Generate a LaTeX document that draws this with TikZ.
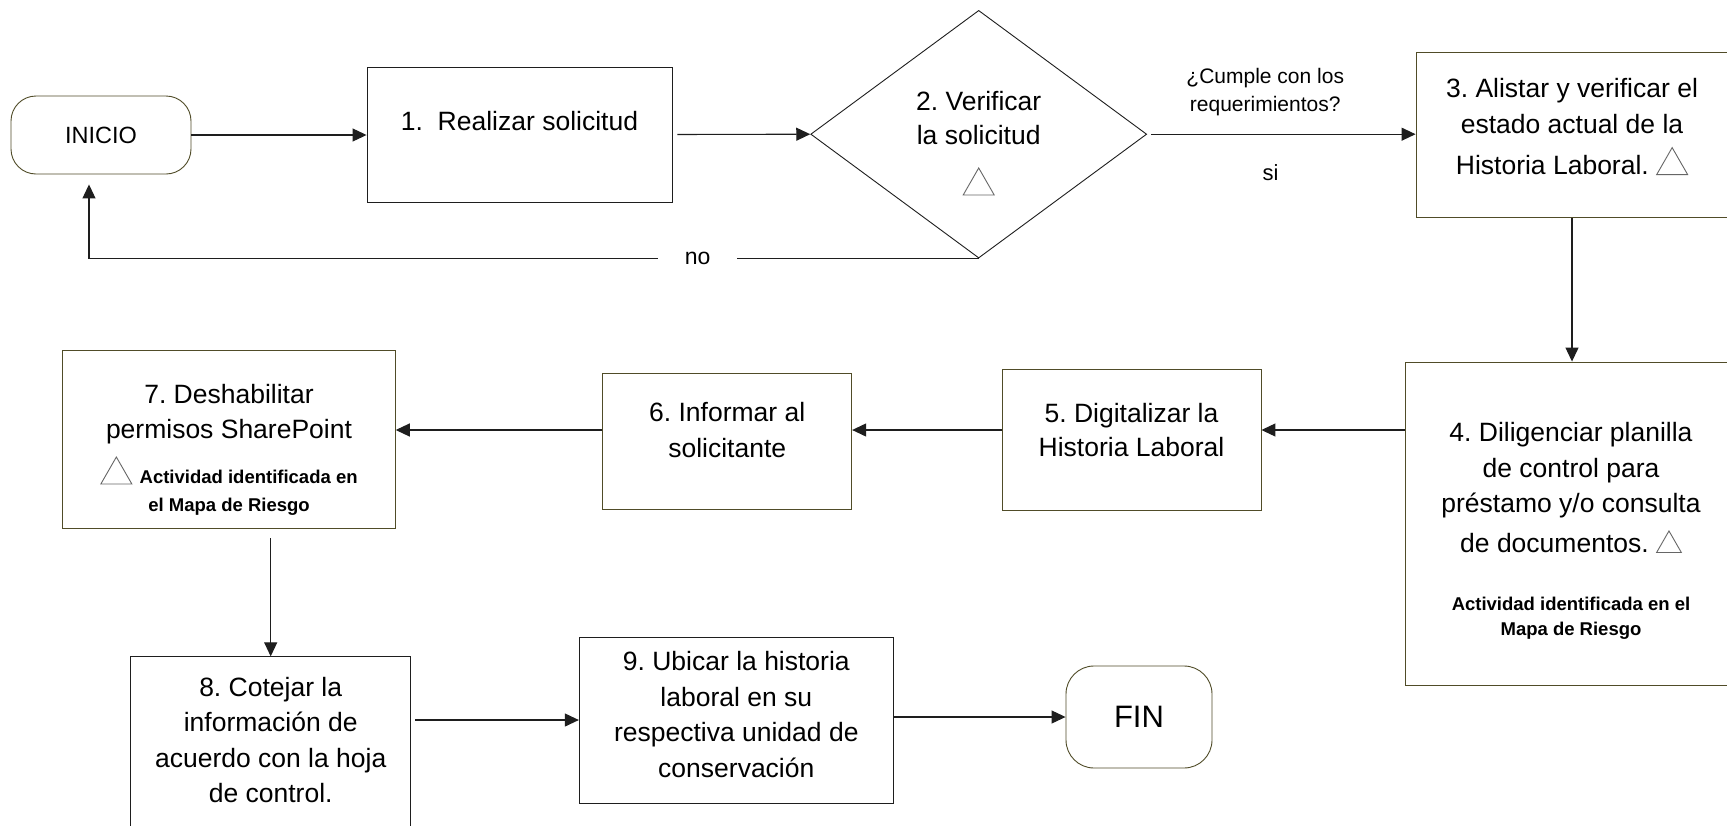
\documentclass[tikz,border=0pt]{standalone}
\usepackage{fontspec}
\setmainfont{Liberation Sans}
\usepackage{tikz}
\usetikzlibrary{arrows.meta, shapes.geometric}

\definecolor{oliva}{RGB}{80,76,40}
\definecolor{trazo}{RGB}{30,30,30}
\newcommand{\riesgo}[1][1]{\tikz[baseline=0pt, scale=#1]\draw[line width=0.9pt, draw=black!60] (0pt,0pt) -- (31pt,0pt) -- (15.5pt,27pt) -- cycle;}
\newcommand{\nota}[1]{{\bfseries\fontsize{18.5}{24}\selectfont #1}}
\newcommand{\subir}[1]{\rule[-#1]{0pt}{0pt}}
\newcommand{\bajar}[1]{\rule{0pt}{#1}}
\frenchspacing

\begin{document}
\begin{tikzpicture}[x=1pt, y=-1pt]

% Define block styles
\tikzstyle{block} = [rectangle, draw=oliva, line width=0.9pt, align=center,
  inner sep=0pt, font=\fontsize{26.5}{35.5}\selectfont]
\tikzstyle{plain} = [block, draw=trazo]
\tikzstyle{terminal} = [rectangle, draw=oliva, line width=0.9pt, inner sep=0pt]
\tikzstyle{decision} = [diamond, draw=trazo, line width=0.9pt, align=center,
  inner sep=0pt, font=\fontsize{26.5}{34}\selectfont]
\tikzstyle{line} = [draw=trazo, line width=1.1pt, -{Triangle[length=14pt, width=13pt]}]
\tikzstyle{tag} = [align=center, font=\fontsize{21}{28}\selectfont]

\path [use as bounding box, fill=white] (0,0) rectangle (1727,825);

% Nodes
\node [terminal, minimum width=180pt, minimum height=78pt, rounded corners=25pt,
  font=\fontsize{23.5}{28}\selectfont] (inicio) at (101,135) {INICIO};
\node [plain, minimum width=305pt, minimum height=135pt, text depth=28pt] (sol) at (519.5,134.5) {1.\ \ Realizar solicitud};
\node [decision, minimum width=336pt, minimum height=247pt] (ver) at (978.7,134.2) {\bajar{38pt}2. Verificar\\la solicitud\\[16pt]\riesgo};
\node [block, minimum width=312pt, minimum height=164.6pt] (alistar) at (1572,135)
  {3. Alistar y verificar el\\[0.5pt]estado actual de la\\[5.5pt]Historia Laboral. \riesgo\subir{17pt}};
\node [block, minimum width=332pt, minimum height=323pt] (dilig) at (1571,523.5)
  {\bajar{34pt}4. Diligenciar planilla\\[0.5pt]de control para\\[-0.5pt]préstamo y/o consulta\\[4.5pt]de documentos. \riesgo[0.8]\\[22.5pt]\nota{Actividad identificada en el}\\[-10.5pt]\nota{Mapa de Riesgo}};
\node [block, minimum width=259pt, minimum height=141pt] (digit) at (1131.5,439.7) {5. Digitalizar la\\[-1.5pt]Historia Laboral\subir{20pt}};
\node [block, minimum width=249pt, minimum height=136pt] (inform) at (727.2,441.2) {6. Informar al\\[0pt]solicitante\subir{23pt}};
\node [block, minimum width=332.6pt, minimum height=178pt] (deshab) at (229,439.7)
  {\bajar{40pt}7. Deshabilitar\\[-0.5pt]permisos SharePoint\\[9.5pt]\riesgo\ \nota{Actividad identificada en}\\[-8pt]\nota{el Mapa de Riesgo}};
\node [plain, minimum width=280pt, minimum height=175pt] (cotejar) at (270.7,744.3)
  {8. Cotejar la\\información de\\acuerdo con la hoja\\de control.\subir{9pt}};
\node [plain, minimum width=314pt, minimum height=166pt] (ubicar) at (736.3,720)
  {9. Ubicar la historia\\laboral en su\\respectiva unidad de\\conservación\subir{11pt}};
\node [terminal, minimum width=146pt, minimum height=102pt, rounded corners=28pt,
  font=\fontsize{31}{36}\selectfont] (fin) at (1139,717) {FIN};

\coordinate (vuelta) at (89,0);
\coordinate (fila) at (0,430);

% Paths
\path [line] (inicio.east) -- (inicio.east -| sol.west);
\path [line, shorten <=5pt] (sol.east) -- (ver.west);
\path [line, shorten <=4pt] (ver.east) -- node[tag, pos=0.44, above=14pt] {¿Cumple con los\\requerimientos?}
  node[tag, pos=0.46, below=26pt, font=\fontsize{22}{26}\selectfont] {si} (ver.east -| alistar.west);
\path [line, shorten >=10pt] (ver.south) -- node[pos=0.316, fill=white, inner xsep=27pt,
  font=\fontsize{23}{26}\selectfont] {no} (ver.south -| vuelta) -- (inicio.south -| vuelta);
\path [line] (alistar.south) -- (alistar.south |- dilig.north);
\path [line] (dilig.west |- fila) -- (digit.east |- fila);
\path [line] (digit.west |- fila) -- (inform.east |- fila);
\path [line] (inform.west |- fila) -- (deshab.east |- fila);
\path [line, shorten <=9pt] (cotejar.north |- deshab.south) -- (cotejar.north);
\path [line, shorten <=4pt] (cotejar.east |- ubicar.west) -- (ubicar.west);
\path [line] (ubicar.east |- fin.west) -- (fin.west);

\end{tikzpicture}
\end{document}
